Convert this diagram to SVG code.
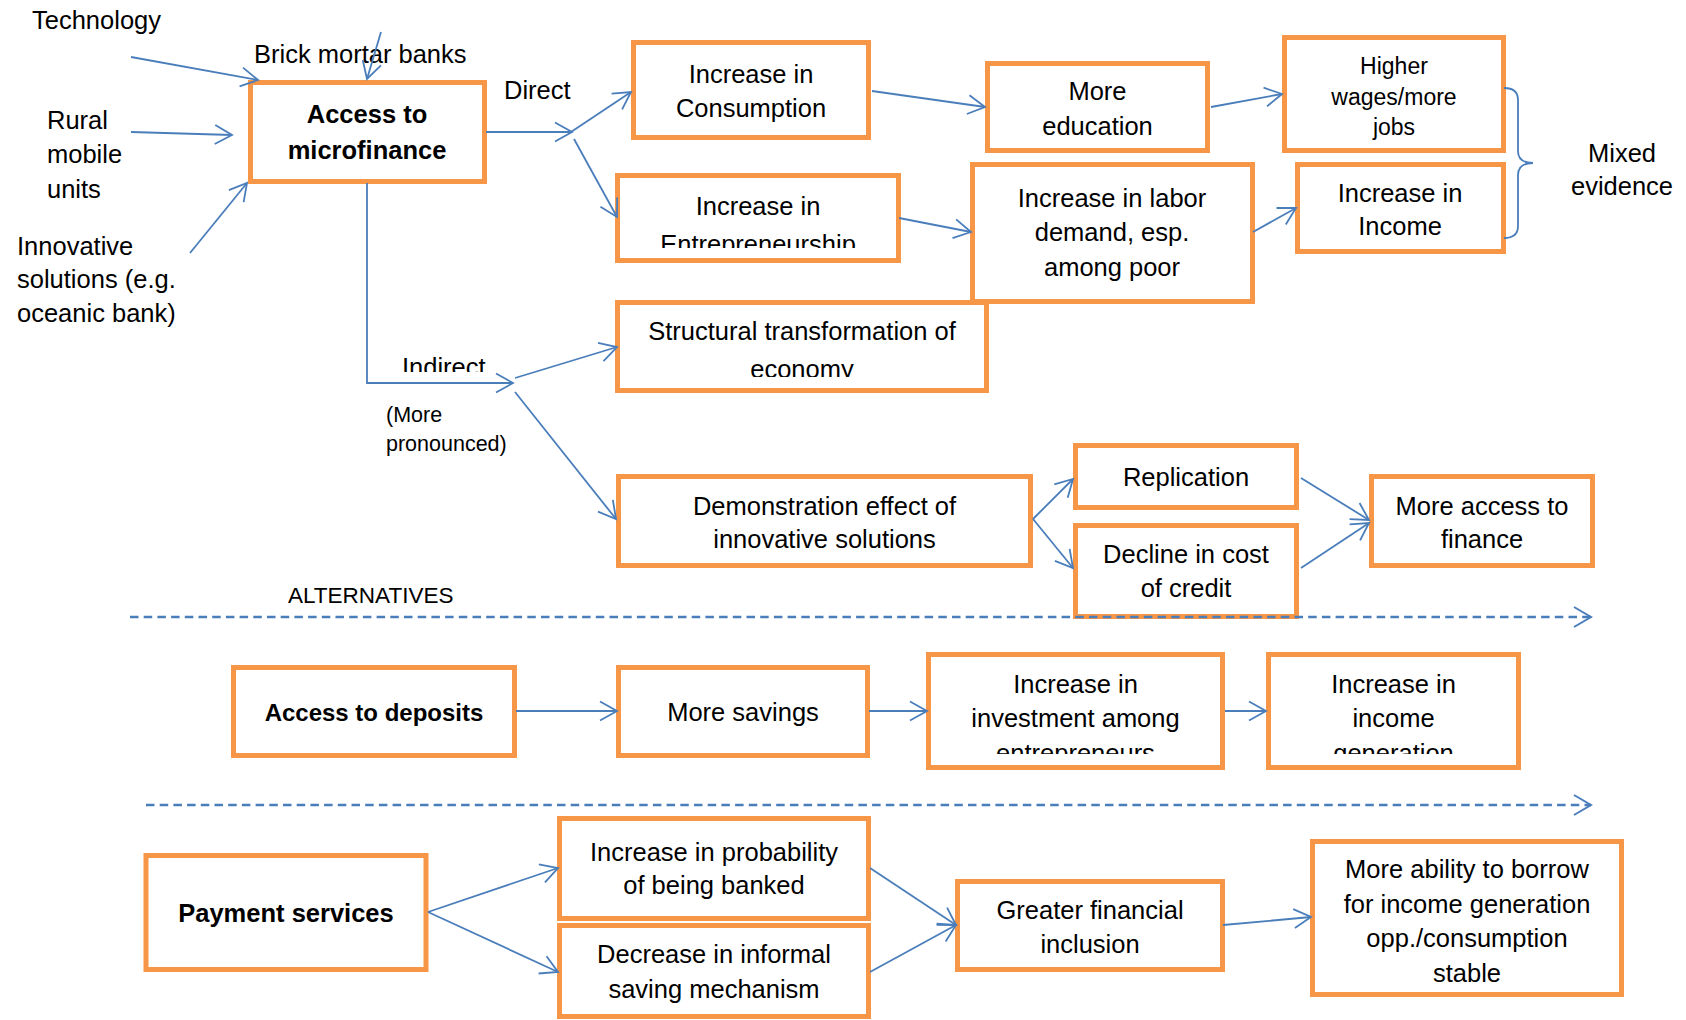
<svg xmlns="http://www.w3.org/2000/svg" width="1686" height="1020" viewBox="0 0 1686 1020">
<defs>
<style>
.box{fill:#fff;stroke:#F79646;stroke-width:5}
.t{font-family:"Liberation Sans",Arial,sans-serif;font-size:25.5px;fill:#000;text-anchor:middle}
.l{font-family:"Liberation Sans",Arial,sans-serif;font-size:25.5px;fill:#000}
.b{font-weight:bold}
.c{fill:none;stroke:#4A7EBB;stroke-width:1.8;marker-end:url(#ah)}
.cn{fill:none;stroke:#4A7EBB;stroke-width:1.8}
.d{fill:none;stroke:#4A7EBB;stroke-width:2.6;stroke-dasharray:8.5 5.2;marker-end:url(#ahd)}
</style>
<marker id="ah" markerUnits="userSpaceOnUse" markerWidth="24" markerHeight="24" viewBox="-20 -12 24 24" refX="0" refY="0" orient="auto">
<path d="M-17,-9.5 L0,0 L-17,9.5" fill="none" stroke="#4A7EBB" stroke-width="1.8"/>
</marker>
<marker id="ahd" markerUnits="userSpaceOnUse" markerWidth="24" markerHeight="26" viewBox="-20 -13 24 26" refX="0" refY="0" orient="auto">
<path d="M-17,-10 L0,0 L-17,10" fill="none" stroke="#4A7EBB" stroke-width="2"/>
</marker>
<clipPath id="cEnt"><rect x="600" y="170" width="320" height="78"/></clipPath>
<clipPath id="cEco"><rect x="600" y="300" width="400" height="77"/></clipPath>
<clipPath id="cInd"><rect x="380" y="340" width="120" height="32"/></clipPath>
<clipPath id="cInv"><rect x="900" y="650" width="640" height="104"/></clipPath>
</defs>

<g id="labels">
<text class="l" x="32" y="29">Technology</text>
<text class="l" x="254" y="63">Brick mortar banks</text>
<text class="l" x="504" y="99">Direct</text>
<text class="l" x="47" y="129">Rural</text>
<text class="l" x="47" y="163">mobile</text>
<text class="l" x="47" y="198">units</text>
<text class="l" x="17" y="255">Innovative</text>
<text class="l" x="17" y="288">solutions (e.g.</text>
<text class="l" x="17" y="322">oceanic bank)</text>
<text class="l" x="402" y="376" clip-path="url(#cInd)">Indirect</text>
<text class="l" x="386" y="422" style="font-size:21.5px">(More</text>
<text class="l" x="386" y="451" style="font-size:21.5px">pronounced)</text>
<text class="l" x="288" y="603" style="font-size:22.5px">ALTERNATIVES</text>
<text class="t" x="1622" y="162">Mixed</text>
<text class="t" x="1622" y="195">evidence</text>
</g>

<g id="n-microfinance"><rect class="box" x="250.5" y="82.5" width="234" height="99"/>
<text class="t b" x="367" y="123" style="font-size:25.5px">Access to</text><text class="t b" x="367" y="159" style="font-size:25.5px">microfinance</text></g>

<g id="n-consumption"><rect class="box" x="633.5" y="42.5" width="235" height="95"/>
<text class="t" x="751" y="83">Increase in</text><text class="t" x="751" y="117">Consumption</text></g>

<g id="n-education"><rect class="box" x="987.5" y="63.5" width="220" height="87"/>
<text class="t" x="1097.5" y="100">More</text><text class="t" x="1097.5" y="135">education</text></g>

<g id="n-wages"><rect class="box" x="1284.5" y="37.5" width="219" height="113"/>
<text class="t" x="1394" y="74" style="font-size:23px">Higher</text><text class="t" x="1394" y="105" style="font-size:23px">wages/more</text><text class="t" x="1394" y="135" style="font-size:23px">jobs</text></g>

<g id="n-entrepreneurship"><rect class="box" x="617.5" y="175.5" width="281" height="85"/>
<text class="t" x="758" y="215">Increase in</text><text class="t" x="758" y="253" clip-path="url(#cEnt)">Entrepreneurship</text></g>

<g id="n-labor"><rect class="box" x="972.5" y="164.5" width="280" height="137"/>
<text class="t" x="1112" y="207">Increase in labor</text><text class="t" x="1112" y="241">demand, esp.</text><text class="t" x="1112" y="276">among  poor</text></g>

<g id="n-income"><rect class="box" x="1297.5" y="164.5" width="206" height="87"/>
<text class="t" x="1400" y="202">Increase in</text><text class="t" x="1400" y="235">Income</text></g>

<g id="n-structural"><rect class="box" x="617.5" y="302.5" width="369" height="88"/>
<text class="t" x="802" y="340">Structural transformation of</text><text class="t" x="802" y="378" clip-path="url(#cEco)">economy</text></g>

<g id="n-demonstration"><rect class="box" x="618.5" y="476.5" width="412" height="89"/>
<text class="t" x="824.5" y="515">Demonstration effect of</text><text class="t" x="824.5" y="548">innovative solutions</text></g>

<g id="n-replication"><rect class="box" x="1075.5" y="445.5" width="221" height="62"/>
<text class="t" x="1186" y="486">Replication</text></g>

<g id="n-decline"><rect class="box" x="1075.5" y="525.5" width="221" height="91"/>
<text class="t" x="1186" y="563">Decline in cost</text><text class="t" x="1186" y="597">of credit</text></g>

<g id="n-moreaccess"><rect class="box" x="1371.5" y="476.5" width="221" height="89"/>
<text class="t" x="1482" y="515">More access to</text><text class="t" x="1482" y="548">finance</text></g>

<g id="n-deposits"><rect class="box" x="233.5" y="667.5" width="281" height="88"/>
<text class="t b" x="374" y="721" style="font-size:24px">Access to deposits</text></g>

<g id="n-savings"><rect class="box" x="618.5" y="667.5" width="249" height="88"/>
<text class="t" x="743" y="721">More savings</text></g>

<g id="n-investment"><rect class="box" x="928.5" y="654.5" width="294" height="113"/>
<text class="t" x="1075.5" y="693">Increase in</text><text class="t" x="1075.5" y="727">investment among</text><text class="t" x="1075.5" y="762" clip-path="url(#cInv)">entrepreneurs</text></g>

<g id="n-incomegen"><rect class="box" x="1268.5" y="654.5" width="250" height="113"/>
<text class="t" x="1393.5" y="693">Increase in</text><text class="t" x="1393.5" y="727">income</text><text class="t" x="1393.5" y="762" clip-path="url(#cInv)">generation</text></g>

<g id="n-payment"><rect class="box" x="146" y="855.5" width="280" height="114"/>
<text class="t b" x="286" y="922">Payment services</text></g>

<g id="n-probability"><rect class="box" x="559.5" y="818.5" width="309" height="100"/>
<text class="t" x="714" y="861">Increase in probability</text><text class="t" x="714" y="894">of being banked</text></g>

<g id="n-informal"><rect class="box" x="559.5" y="925.5" width="309" height="91"/>
<text class="t" x="714" y="963">Decrease in informal</text><text class="t" x="714" y="998">saving mechanism</text></g>

<g id="n-inclusion"><rect class="box" x="957.5" y="881.5" width="265" height="88"/>
<text class="t" x="1090" y="919">Greater financial</text><text class="t" x="1090" y="953">inclusion</text></g>

<g id="n-borrow"><rect class="box" x="1312.5" y="841.5" width="309" height="153"/>
<text class="t" x="1467" y="878">More ability to borrow</text><text class="t" x="1467" y="913">for income generation</text><text class="t" x="1467" y="947">opp./consumption</text><text class="t" x="1467" y="982">stable</text></g>

<g id="connectors">
<path class="c" d="M131,57 L258,80"/>
<path class="c" d="M381,32 L367,79"/>
<path class="c" d="M131,132 L232,135"/>
<path class="c" d="M190,253 L247,183"/>
<path class="c" d="M486,132 L572,132"/>
<path class="c" d="M571,132 L631,92"/>
<path class="c" d="M574,139 L617,217"/>
<path class="c" d="M872,91 L985,107"/>
<path class="c" d="M1211,107 L1282,94"/>
<path class="c" d="M899,218 L971,232"/>
<path class="c" d="M1253,232 L1296,208"/>
<path class="cn" d="M1504,88 Q1518,88 1518,100 L1518,151 Q1518,163 1533,163 Q1518,163 1518,175 L1518,226 Q1518,238 1504,238"/>
<path class="c" d="M367,183 L367,383 L513,383"/>
<path class="c" d="M515,378 L617,347"/>
<path class="c" d="M515,392 L616,519"/>
<path class="c" d="M1033,519 L1073,479"/>
<path class="c" d="M1033,519 L1073,568"/>
<path class="c" d="M1301,478 L1369,520"/>
<path class="c" d="M1301,568 L1369,523"/>
<path class="d" d="M130,617 L1591,617"/>
<path class="c" d="M516,711 L617,711"/>
<path class="c" d="M869,711 L927,711"/>
<path class="c" d="M1225,711 L1266,711"/>
<path class="d" d="M146,805 L1591,805"/>
<path class="c" d="M428,912 L558,868"/>
<path class="c" d="M428,912 L558,972"/>
<path class="c" d="M870,868 L956,925"/>
<path class="c" d="M870,972 L956,925"/>
<path class="c" d="M1223,925 L1311,917"/>
</g>
</svg>
